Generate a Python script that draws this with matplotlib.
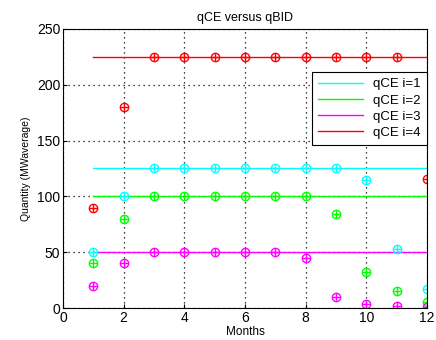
import matplotlib
matplotlib.use("Agg")
import matplotlib.pyplot as plt

# months and the chosen quantities (qBID) per contract
months = [1, 2, 3, 4, 5, 6, 7, 8, 9, 10, 11, 12]
qbid_1 = [50, 100, 125, 125, 125, 125, 125, 125, 125, 115, 53, 17]
qbid_2 = [40, 80, 100, 100, 100, 100, 100, 100, 84, 32, 15, 5]
qbid_3 = [20, 40, 50, 50, 50, 50, 50, 45, 10, 4, 2, 1]
qbid_4 = [90, 180, 225, 225, 225, 225, 225, 225, 225, 225, 225, 116]

# contracted energy levels (qCE)
qce_levels = [125, 100, 50, 225]
labels = ["qCE i=1", "qCE i=2", "qCE i=3", "qCE i=4"]
colors = ["#00ffff", "#00ff00", "#ff00ff", "#ff0000"]

plt.rcParams["font.family"] = ["Liberation Sans", "DejaVu Sans"]

fig = plt.figure(figsize=(4.36, 3.40), dpi=100)
ax = fig.add_axes([0.1445, 0.094, 0.835, 0.821])

# horizontal qCE lines
for level, lab, c in zip(qce_levels, labels, colors):
    ax.plot([months[0], months[-1]], [level, level], color=c, lw=1.0, label=lab)

# qBID points drawn as circle-plus markers
for series, c in zip([qbid_1, qbid_2, qbid_4, qbid_3], [colors[0], colors[1], colors[3], colors[2]]):
    ax.plot(months, series, ls="none", marker="o", ms=6, mfc="none", mec=c, mew=1.0)
    ax.plot(months, series, ls="none", marker="+", ms=6, mec=c, mew=1.0)

ax.set_xlim(0, 12)
ax.set_ylim(0, 250)
ax.set_xticks(range(0, 13, 2))
ax.set_yticks(range(0, 251, 50))
ax.grid(True, color="black", ls=(0, (1, 3)), lw=0.9)
ax.tick_params(direction="in", labelsize=10, length=3, pad=2)
for s in ax.spines.values():
    s.set_linewidth(0.8)

ax.set_title("qCE versus qBID", fontsize=9)
ax.set_xlabel("Months", fontsize=8.5, labelpad=1)
ax.set_ylabel("Quantity (MWaverage)", fontsize=7.5, labelpad=4)

leg = ax.legend(loc="upper right", bbox_to_anchor=(1.0, 0.845), fontsize=9.5,
                frameon=True, fancybox=False, edgecolor="black", framealpha=1,
                handlelength=3.4, borderpad=0.45, labelspacing=0.3, borderaxespad=0)
leg.get_frame().set_linewidth(0.8)

fig.savefig("out.png", dpi=100)
